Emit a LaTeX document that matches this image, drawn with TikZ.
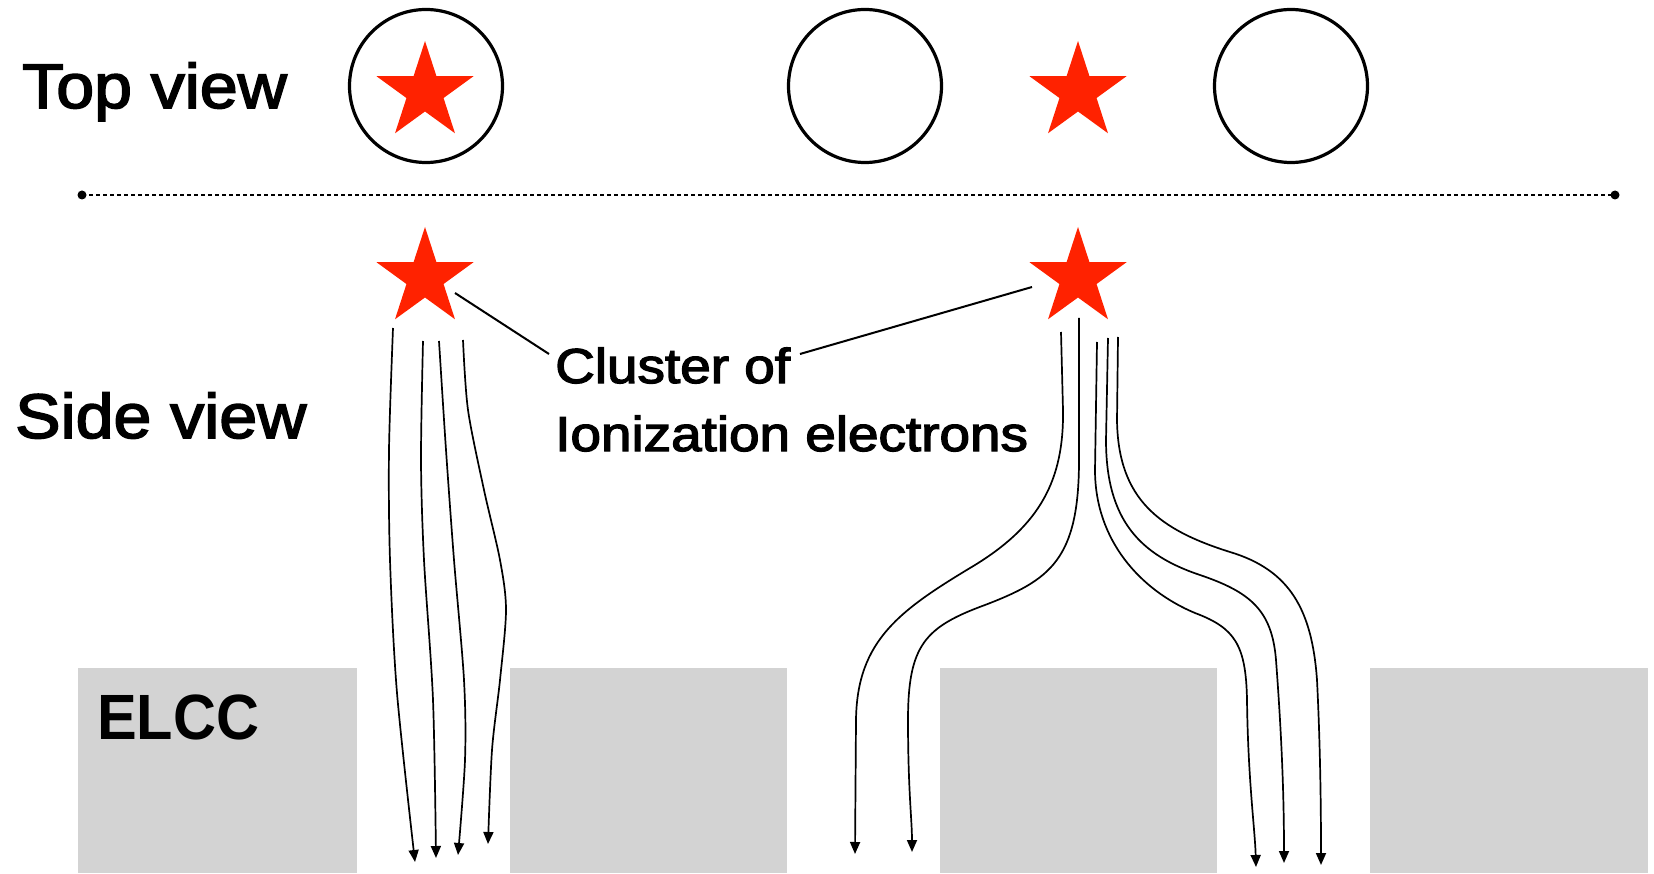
\documentclass[tikz,border=0pt]{standalone}
\usepackage{fontspec}
\setmainfont{Liberation Sans}
\newfontfamily\medsans[FakeBold=2.5]{Liberation Sans}
\usetikzlibrary{arrows.meta,calc}
\definecolor{starred}{RGB}{255,34,0}
\definecolor{elccgray}{RGB}{211,211,211}
\begin{document}
\begin{tikzpicture}[x=1pt,y=-1pt,
  holecircle/.style={circle, draw=black, line width=3.2pt, minimum size=153pt, inner sep=0pt},
  elccblock/.style={fill=elccgray, draw=none, inner sep=0pt, anchor=north west, minimum height=205pt},
  drift/.style={line width=1.7pt, -{Triangle[length=12pt,width=10pt]}},
  leader/.style={line width=2pt},
  enddot/.style={circle, fill=black, inner sep=0pt, minimum size=9pt},
  bigtext/.style={font=\medsans\fontsize{63}{70}\selectfont, inner sep=0pt, anchor=base west, xscale=1.08},
  labeltext/.style={font=\medsans\fontsize{49}{55}\selectfont, inner sep=0pt, anchor=base west, xscale=1.12},
  elcctext/.style={font=\bfseries\fontsize{64}{70}\selectfont, inner sep=0pt, anchor=base west, xscale=0.93},
]
\useasboundingbox (0,0) rectangle (1654,874);

% ELCC blocks
\node[elccblock, minimum width=279pt] (b1) at (78,668) {};
\node[elccblock, minimum width=277pt] (b2) at (510,668) {};
\node[elccblock, minimum width=277pt] (b3) at (940,668) {};
\node[elccblock, minimum width=278pt] (b4) at (1370,668) {};
\node[elcctext] (elcc) at (97,739) {ELCC};

% Top view
\node[bigtext] (top) at (22,108) {Top view};
\node[holecircle] (h1) at (426,86) {};
\node[holecircle] (h2) at (865,86) {};
\node[holecircle] (h3) at (1291,86) {};

% star centres
\coordinate (ts1) at (425,92);
\coordinate (ts2) at (1078,92);
\coordinate (s1) at (425,278);
\coordinate (s2) at (1078,278);
\foreach \c in {ts1,ts2,s1,s2}{
  \fill[starred] ($(\c)+(-90:51)$)
    \foreach \a/\r in {-54/19.5,-18/51,18/19.5,54/51,90/19.5,126/51,162/19.5,198/51,234/19.5}{ -- ($(\c)+(\a:\r)$) } -- cycle;
}

% separator
\node[enddot] (d1) at (82,195) {};
\node[enddot] (d2) at (1615,195) {};
\draw[line width=2pt, dash pattern=on 4pt off 3pt] (d1.center) -- (d2.center);

% Side view
\node[bigtext] (side) at (15,438) {Side view};

\node[labeltext] (lab1) at (555,383) {Cluster of};
\node[labeltext] (lab2) at (555,451) {Ionization electrons};

\coordinate (l1a) at (455,293);
\coordinate (l1b) at (549,354);
\coordinate (l2a) at (1032,287);
\coordinate (l2b) at (800,354);
\draw[leader] (l1a) -- (l1b);
\draw[leader] (l2a) -- (l2b);

% drift lines, left cluster
\draw[drift] plot[smooth] coordinates {(393,328) (389,450) (390,560) (397,693) (415,862)};
\draw[drift] plot[smooth] coordinates {(423,341) (421,460) (424,560) (433,700) (436,858)};
\draw[drift] plot[smooth] coordinates {(439,341) (446,450) (454,560) (464,680) (465,760) (458,855)};
\draw[drift] plot[smooth] coordinates {(463,340) (468,410) (484,490) (500,560) (506,610) (500,680) (492,750) (488,844)};

% drift lines, right cluster
\draw[drift] (1061,332) -- (1063,410) .. controls (1064,480) and (1040,525) .. (975,565)
  .. controls (900,610) and (857,640) .. (856,720) -- (855,854);
\draw[drift] (1079,318) -- (1079,460) .. controls (1079,560) and (1050,580) .. (985,605)
  .. controls (925,627) and (908,645) .. (908,720) .. controls (908,790) and (912,820) .. (912,852);
\draw[drift] (1097,342) -- (1095,470) .. controls (1095,540) and (1140,590) .. (1195,613)
  .. controls (1235,628) and (1246,645) .. (1247,700) .. controls (1248,780) and (1255,830) .. (1256,867);
\draw[drift] (1108,338) -- (1106,440) .. controls (1106,520) and (1140,555) .. (1200,575)
  .. controls (1250,592) and (1272,610) .. (1276,660) .. controls (1282,740) and (1284,800) .. (1284,863);
\draw[drift] (1118,337) -- (1117,420) .. controls (1118,500) and (1160,530) .. (1230,552)
  .. controls (1290,570) and (1312,610) .. (1317,680) .. controls (1320,740) and (1321,800) .. (1321,865);
\end{tikzpicture}
\end{document}
